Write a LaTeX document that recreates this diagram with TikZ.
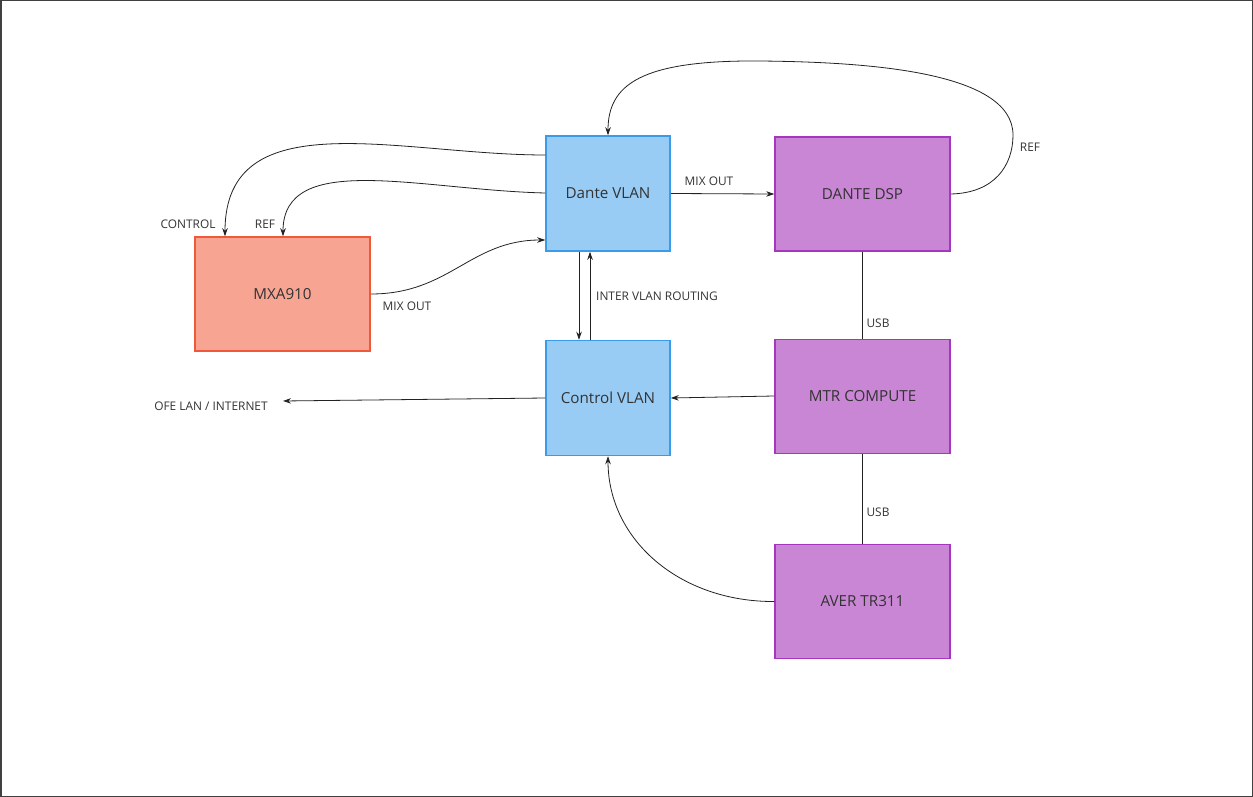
\documentclass[tikz,border=0pt]{standalone}
\usepackage{fontspec}
\setmainfont{Open Sans}
\usetikzlibrary{arrows.meta}
\definecolor{txt}{HTML}{333333}
\definecolor{lineC}{HTML}{222222}
\definecolor{redF}{HTML}{F7A492}
\definecolor{redD}{HTML}{F0583C}
\definecolor{bluF}{HTML}{99CCF5}
\definecolor{bluD}{HTML}{3A9BEB}
\definecolor{purF}{HTML}{C986D4}
\definecolor{purD}{HTML}{A636BD}
\tikzset{
  box/.style={draw, line width=1.5pt, rectangle, minimum width=#1, inner sep=0pt, text=txt, font=\fontsize{15.2}{17}\selectfont},
  redbox/.style={box=175pt, minimum height=114pt, fill=redF, draw=redD},
  bluebox/.style={box=124pt, minimum height=115pt, fill=bluF, draw=bluD},
  purbox/.style={box=175pt, minimum height=114pt, fill=purF, draw=purD},
  lbl/.style={text=txt, font=\fontsize{11.9}{14}\selectfont, inner sep=0pt},
  conn/.style={draw=lineC, line width=0.8pt},
  arr/.style={conn, -{Stealth[length=8pt,width=5.5pt]}}
}
\begin{document}
\begin{tikzpicture}[x=1pt,y=-1pt]
\useasboundingbox (0,0) rectangle (1253,797);
\draw[draw=black!75, line width=1.5pt] (0.75,0.75) rectangle (1252.25,796.25);

\node[redbox] (mxa) at (282.5,294) {MXA910};
\node[bluebox] (dante) at (608,193.5) {Dante VLAN};
\node[bluebox] (ctrl) at (608,398) {Control VLAN};
\node[purbox] (dsp) at (862.5,194) {DANTE DSP};
\node[purbox] (mtr) at (862.5,396.5) {MTR COMPUTE};
\node[purbox] (aver) at (862.5,601.5) {AVER TR311};

\coordinate (ofe) at (283,401);

% Dante VLAN -> MXA910 (CONTROL)
\draw[arr] (dante.west |- 0,155) .. controls (400,155) and (225,100) .. (mxa.north -| 225,0);
\node[lbl] (lcontrol) at (188,224.5) {CONTROL};
% Dante VLAN -> MXA910 (REF)
\draw[arr] (dante.west |- 0,193) .. controls (420,190) and (283,150) .. (mxa.north -| 283,0);
\node[lbl] (lref1) at (265,224.5) {REF};
% MXA910 -> Dante VLAN (MIX OUT)
\draw[arr] (mxa.east) .. controls (450,294) and (470,240) .. (dante.west |- 0,240);
\node[lbl] (lmix1) at (407,306) {MIX OUT};
% Dante VLAN -> DANTE DSP
\draw[arr] (dante.east) -- (dsp.west);
\node[lbl] (lmix2) at (709,181) {MIX OUT};
% DANTE DSP -> Dante VLAN (REF)
\draw[arr] (dsp.east) .. controls (995,193) and (1013,165) .. (1013,135)
  .. controls (1013,70) and (860,62) .. (760,61)
  .. controls (640,60) and (608,85) .. (dante.north);
\node[lbl] (lref2) at (1030,147) {REF};
% Inter VLAN routing
\draw[arr] (dante.south -| 579,0) -- (ctrl.north -| 579,0);
\draw[arr] (ctrl.north -| 590,0) -- (dante.south -| 590,0);
\node[lbl] (linter) at (657,296.5) {INTER VLAN ROUTING};
% USB links
\draw[conn] (dsp.south) -- (mtr.north);
\node[lbl] (lusb1) at (878,323.5) {USB};
\draw[conn] (mtr.south) -- (aver.north);
\node[lbl] (lusb2) at (878,512.5) {USB};
% MTR -> Control VLAN
\draw[arr] (mtr.west |- 0,396) -- (ctrl.east |- 0,398);
% Control VLAN -> OFE LAN
\draw[arr] (ctrl.west) -- (ofe);
\node[lbl] (lofe) at (211,406.5) {OFE LAN / INTERNET};
% AVER -> Control VLAN
\draw[arr] (aver.west) .. controls (680,602) and (608,540) .. (ctrl.south);
\end{tikzpicture}
\end{document}
